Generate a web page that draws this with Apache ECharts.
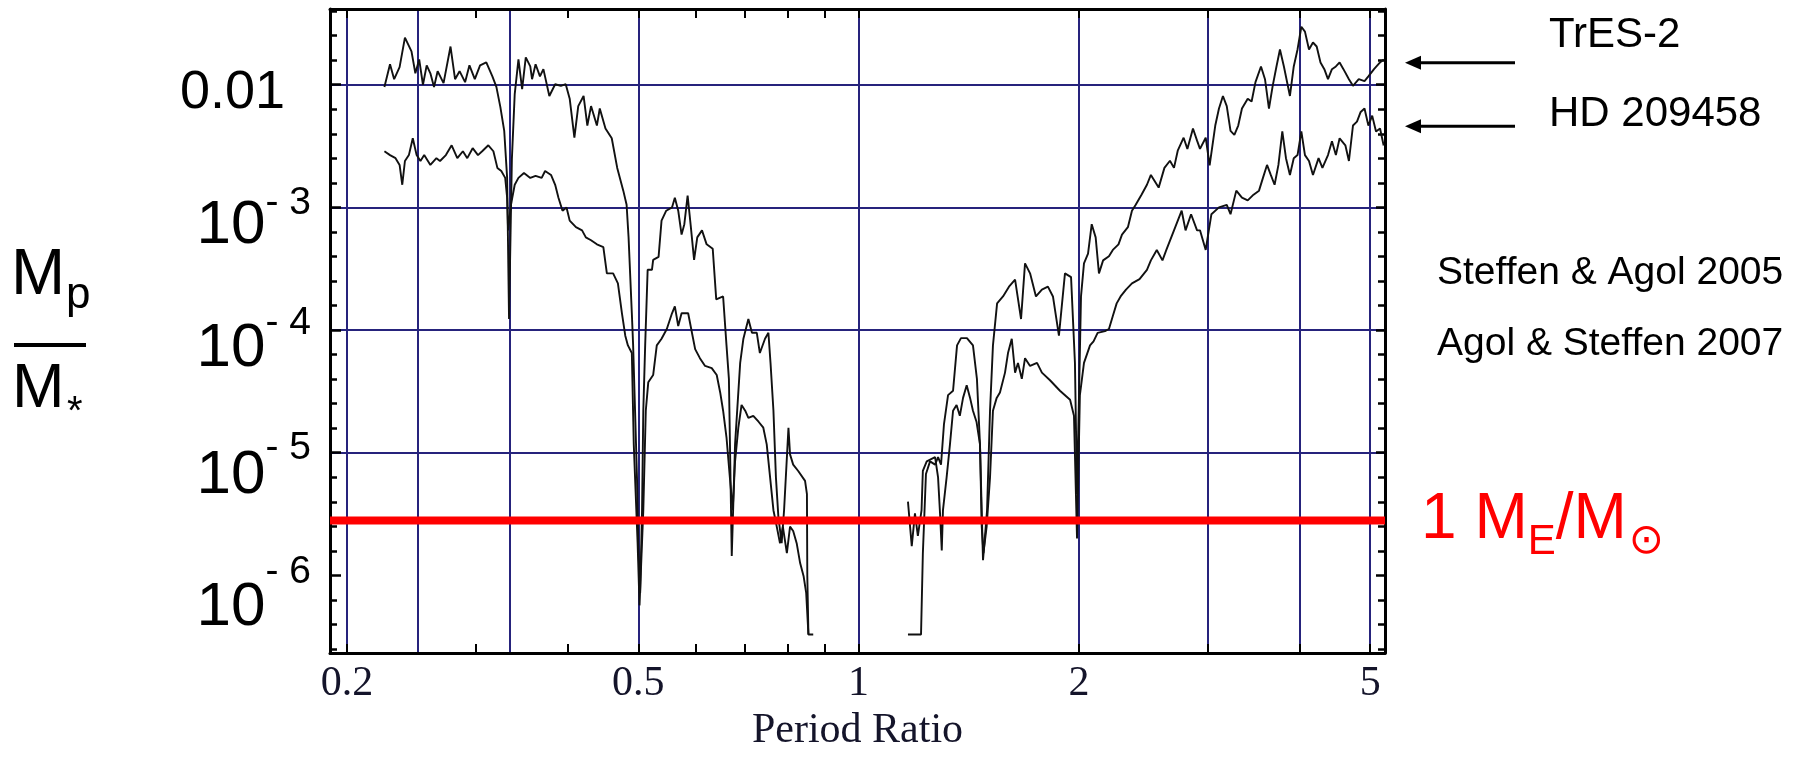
<!DOCTYPE html>
<html><head><meta charset="utf-8">
<script src="https://cdn.jsdelivr.net/npm/echarts@6/dist/echarts.min.js"></script>
<style>html,body{margin:0;padding:0;background:#fff}#c{width:1800px;height:757px}</style>
</head><body><div id="c"></div>
<script>
// ---------- data (period ratio, planet/star mass ratio) ----------
const tres2Left = [
[0.225,9.6e-3],[0.229,1.47e-2],[0.232,1.11e-2],[0.236,1.39e-2],[0.240,2.42e-2],[0.245,1.87e-2],[0.248,1.24e-2],[0.251,1.61e-2],[0.254,1.0e-2],[0.257,1.44e-2],[0.260,1.24e-2],[0.263,9.6e-3],[0.266,1.29e-2],[0.271,1.03e-2],[0.277,2.05e-2],[0.281,1.11e-2],[0.285,1.29e-2],[0.290,1.05e-2],[0.294,1.44e-2],[0.299,1.11e-2],[0.304,1.44e-2],[0.310,1.52e-2],[0.316,1.17e-2],[0.320,9.6e-3],[0.324,6.6e-3],[0.328,4.2e-3],[0.331,1.74e-3],[0.333,1.23e-4],[0.336,2.5e-3],[0.339,8.4e-3],
[0.341,8.7e-3],[0.343,1.61e-2],[0.347,9.2e-3],[0.351,1.67e-2],[0.356,1.41e-2],[0.358,1.11e-2],[0.362,1.47e-2],[0.367,1.17e-2],[0.371,1.34e-2],[0.378,8.1e-3],[0.385,1.01e-2],[0.392,9.8e-3],[0.398,1.01e-2],[0.403,7.7e-3],[0.409,3.7e-3],[0.414,6.7e-3],[0.421,8.1e-3],[0.426,4.65e-3],[0.431,6.7e-3],[0.439,4.65e-3],[0.443,6.4e-3],[0.451,4.4e-3],[0.460,3.66e-3],[0.468,2.1e-3],[0.477,1.37e-3],[0.482,1.05e-3],[0.485,5.7e-4],[0.490,1.37e-4],[0.492,7.5e-5],[0.495,2.2e-5],[0.498,6.3e-6],[0.500,1.83e-6],[0.503,7.2e-7],[0.506,3.4e-6],[0.508,2.2e-5],[0.511,7.5e-5],[0.515,3.1e-4],[0.522,3.1e-4],[0.524,3.74e-4],[0.533,3.95e-4],[0.538,7.8e-4],[0.546,9.4e-4],[0.556,1.0e-3],[0.561,1.2e-3],[0.567,9.4e-4],[0.573,6.0e-4],[0.578,7.3e-4],[0.584,1.25e-3],[0.590,6.9e-4],[0.596,3.74e-4],[0.602,5.7e-4],[0.611,6.5e-4],[0.620,5.0e-4],[0.632,4.6e-4],[0.639,1.78e-4],[0.653,1.88e-4],[0.660,7.5e-5],[0.665,4.0e-5],[0.671,1.44e-6],[0.678,1.17e-5],[0.689,5.4e-5],[0.696,8.5e-5],[0.707,1.23e-4],[0.715,9.5e-5],[0.726,9.5e-5],[0.733,6.5e-5],[0.745,8.5e-5],[0.753,9.5e-5],[0.758,5.4e-5],[0.765,2.2e-5],[0.771,6.3e-6],[0.777,3.0e-6],[0.785,1.83e-6],[0.791,3.4e-6],[0.802,1.6e-5],[0.806,9.7e-6],[0.814,8.0e-6],[0.827,7.1e-6],[0.845,5.9e-6],[0.850,4.6e-6],[0.851,9.9e-7],[0.854,3.3e-7],[0.867,3.3e-7]
];
const tres2Right = [
[1.168,3.3e-7],[1.217,3.3e-7],[1.224,1.5e-6],[1.236,6.7e-6],[1.252,8.5e-6],[1.272,8.0e-6],[1.284,9.2e-6],[1.296,8.0e-6],[1.308,1.7e-5],[1.325,2.95e-5],[1.346,3.2e-5],[1.363,7.5e-5],[1.380,8.6e-5],[1.406,8.6e-5],[1.433,7.5e-5],[1.451,4.0e-5],[1.465,1.17e-5],[1.479,1.33e-6],[1.498,3.4e-6],[1.512,2.2e-5],[1.526,7.5e-5],[1.546,1.65e-4],[1.575,1.88e-4],[1.605,2.26e-4],[1.636,2.58e-4],[1.667,1.23e-4],[1.688,3.5e-4],[1.715,2.9e-4],[1.747,1.88e-4],[1.780,2.14e-4],[1.814,2.26e-4],[1.843,1.88e-4],[1.878,9.0e-5],[1.914,2.9e-4],[1.951,2.7e-4],[1.975,5.4e-5],[1.988,4.6e-6],[2.013,1.88e-4],[2.032,3.5e-4],[2.058,4.2e-4],[2.082,7.3e-4],[2.108,5.7e-4],[2.130,2.9e-4],[2.158,3.7e-4],[2.198,4.0e-4],[2.225,4.5e-4],[2.265,5.0e-4],[2.290,6.0e-4],[2.333,6.9e-4],[2.363,9.4e-4],[2.391,1.05e-3],[2.435,1.27e-3],[2.477,1.53e-3],[2.508,1.84e-3],[2.570,1.45e-3],[2.617,2.1e-3],[2.663,2.4e-3],[2.697,2.1e-3],[2.729,2.9e-3],[2.780,3.7e-3],[2.813,3.0e-3],[2.863,4.4e-3],[2.900,3.5e-3],[2.927,3.0e-3],[2.980,3.7e-3],[3.017,2.2e-3],[3.071,4.65e-3],[3.107,6.4e-3],[3.146,8.1e-3],[3.184,6.7e-3],[3.222,4.2e-3],[3.261,3.9e-3],[3.301,4.65e-3],[3.340,6.4e-3],[3.401,7.7e-3],[3.443,7.3e-3],[3.485,1.05e-2],[3.546,1.41e-2],[3.591,1.11e-2],[3.636,6.4e-3],[3.679,9.8e-3],[3.723,1.41e-2],[3.764,1.94e-2],[3.811,1.41e-2],[3.884,8.1e-3],[3.931,1.41e-2],[3.978,1.94e-2],[4.026,2.97e-2],[4.072,2.71e-2],[4.124,1.94e-2],[4.176,2.21e-2],[4.225,2.05e-2],[4.276,1.52e-2],[4.328,1.34e-2],[4.378,1.11e-2],[4.433,1.34e-2],[4.488,1.41e-2],[4.541,1.52e-2],[4.596,1.34e-2],[4.676,1.11e-2],[4.736,9.8e-3],[4.823,1.11e-2],[4.911,1.07e-2],[4.971,1.17e-2],[5.060,1.34e-2],[5.157,1.52e-2],[5.216,1.61e-2]
];
const hd209458Left = [
[0.225,2.87e-3],[0.229,2.67e-3],[0.233,2.52e-3],[0.236,2.22e-3],[0.238,1.53e-3],[0.240,2.39e-3],[0.243,2.67e-3],[0.246,3.66e-3],[0.249,2.67e-3],[0.252,2.39e-3],[0.255,2.67e-3],[0.260,2.22e-3],[0.265,2.52e-3],[0.268,2.39e-3],[0.273,2.67e-3],[0.278,3.21e-3],[0.283,2.52e-3],[0.288,2.87e-3],[0.292,2.52e-3],[0.297,3.04e-3],[0.302,2.67e-3],[0.306,2.87e-3],[0.312,3.21e-3],[0.317,2.87e-3],[0.321,2.1e-3],[0.325,1.98e-3],[0.329,1.74e-3],[0.331,1.2e-3],[0.332,6.5e-4],[0.335,1.05e-3],[0.339,1.53e-3],[0.343,1.74e-3],[0.349,1.91e-3],[0.356,1.74e-3],[0.362,1.81e-3],[0.369,1.74e-3],[0.373,1.98e-3],[0.380,1.84e-3],[0.385,1.53e-3],[0.389,1.2e-3],[0.394,9.4e-4],[0.399,1.0e-3],[0.403,7.8e-4],[0.411,6.9e-4],[0.419,6.5e-4],[0.424,5.7e-4],[0.431,5.4e-4],[0.439,5.0e-4],[0.448,4.75e-4],[0.453,2.9e-4],[0.462,2.9e-4],[0.469,2.4e-4],[0.475,1.37e-4],[0.480,9.0e-5],[0.484,7.5e-5],[0.490,6.5e-5],[0.493,1.17e-5],[0.499,1.83e-6],[0.502,5.7e-7],[0.508,3.4e-6],[0.512,2.2e-5],[0.516,3.75e-5],[0.524,4.3e-5],[0.530,7.5e-5],[0.538,8.5e-5],[0.547,1.02e-4],[0.556,1.37e-4],[0.561,1.56e-4],[0.567,1.08e-4],[0.573,1.37e-4],[0.585,1.37e-4],[0.592,9.5e-5],[0.598,7.0e-5],[0.607,5.9e-5],[0.617,5.1e-5],[0.630,4.9e-5],[0.640,4.3e-5],[0.647,3.1e-5],[0.653,2.2e-5],[0.660,1.33e-5],[0.667,6.3e-6],[0.673,3.4e-6],[0.678,8.5e-6],[0.685,1.6e-5],[0.692,2.45e-5],[0.700,2.2e-5],[0.707,1.92e-5],[0.718,2.0e-5],[0.730,1.79e-5],[0.741,1.6e-5],[0.749,1.17e-5],[0.757,6.3e-6],[0.765,3.4e-6],[0.773,2.5e-6],[0.781,1.83e-6],[0.788,2.5e-6],[0.798,1.52e-6],[0.806,2.5e-6],[0.814,2.3e-6],[0.823,1.83e-6],[0.832,1.26e-6],[0.841,9.9e-7],[0.848,7.2e-7],[0.854,3.3e-7]
];
const hd209458Right = [
[1.168,4.0e-6],[1.182,1.73e-6],[1.194,3.2e-6],[1.205,2.1e-6],[1.219,3.4e-6],[1.224,7.1e-6],[1.239,8.5e-6],[1.272,9.2e-6],[1.284,6.3e-6],[1.292,3.2e-6],[1.299,1.6e-6],[1.304,3.4e-6],[1.319,6.3e-6],[1.333,1.17e-5],[1.346,2.2e-5],[1.361,2.45e-5],[1.375,2.0e-5],[1.389,2.8e-5],[1.405,3.55e-5],[1.420,2.8e-5],[1.433,2.2e-5],[1.449,1.79e-5],[1.465,1.17e-5],[1.473,2.5e-6],[1.481,1.52e-6],[1.496,2.5e-6],[1.512,6.3e-6],[1.526,2.2e-5],[1.544,2.8e-5],[1.560,3.1e-5],[1.585,4.5e-5],[1.600,6.5e-5],[1.619,8.5e-5],[1.636,4.5e-5],[1.651,5.4e-5],[1.671,4.0e-5],[1.688,5.9e-5],[1.715,5.1e-5],[1.753,5.4e-5],[1.780,4.5e-5],[1.826,3.9e-5],[1.884,3.2e-5],[1.945,2.7e-5],[1.969,2.0e-5],[1.988,2.0e-6],[2.006,2.95e-5],[2.032,5.4e-5],[2.071,7.5e-5],[2.094,8.1e-5],[2.121,9.5e-5],[2.171,9.8e-5],[2.198,1.02e-4],[2.225,1.3e-4],[2.252,1.65e-4],[2.280,1.88e-4],[2.319,2.14e-4],[2.363,2.4e-4],[2.420,2.6e-4],[2.477,3.1e-4],[2.508,3.7e-4],[2.555,4.5e-4],[2.601,3.7e-4],[2.633,4.5e-4],[2.697,6.5e-4],[2.763,9.4e-4],[2.797,6.5e-4],[2.846,8.8e-4],[2.900,6.5e-4],[2.927,6.5e-4],[2.980,4.5e-4],[3.034,8.8e-4],[3.107,1.0e-3],[3.184,1.05e-3],[3.222,8.8e-4],[3.281,1.37e-3],[3.340,1.2e-3],[3.401,1.14e-3],[3.464,1.27e-3],[3.524,1.37e-3],[3.568,1.74e-3],[3.614,2.22e-3],[3.657,1.84e-3],[3.701,1.53e-3],[3.746,2.22e-3],[3.792,4.16e-3],[3.836,2.52e-3],[3.884,1.84e-3],[3.931,2.52e-3],[3.978,2.67e-3],[4.026,4.16e-3],[4.072,2.67e-3],[4.124,2.39e-3],[4.176,1.84e-3],[4.250,2.52e-3],[4.302,2.1e-3],[4.378,2.67e-3],[4.433,3.46e-3],[4.488,2.67e-3],[4.541,3.66e-3],[4.624,3.21e-3],[4.676,2.39e-3],[4.736,4.65e-3],[4.796,5.0e-3],[4.852,6.0e-3],[4.911,6.4e-3],[4.971,4.65e-3],[5.031,5.6e-3],[5.092,4.16e-3],[5.157,4.4e-3],[5.216,3.2e-3]
];
const earthSunMassRatio = 2.8e-6;          // red reference line
const arrowTargets = [0.0151, 0.00459];     // TrES-2, HD 209458 arrows
const arrowNames = ['TrES-2', 'HD 209458'];
const citations = ['Steffen & Agol 2005', 'Agol & Steffen 2007'];

// ---------- axes ----------
const xMin = 0.1896, xMax = 5.238;
const yMin = 2.33e-7, yMax = 0.04145;
const xLabelValues = [0.2, 0.5, 1, 2, 5];
const xTickValues = [0.2, 0.3, 0.4, 0.5, 0.6, 0.7, 0.8, 0.9, 1, 2, 3, 4, 5];
const xGridValues = [0.2, 0.25, 1/3, 0.5, 1, 2, 3, 4, 5];
const yLabelValues = [1e-6, 1e-5, 1e-4, 1e-3, 1e-2];
const yGridValues = [1e-5, 1e-4, 1e-3, 1e-2];
const yMinorTickValues = [2.512e-7,3.981e-7,6.310e-7,1.585e-6,2.512e-6,3.981e-6,6.310e-6,1.585e-5,2.512e-5,3.981e-5,6.310e-5,1.585e-4,2.512e-4,3.981e-4,6.310e-4,1.585e-3,2.512e-3,3.981e-3,6.310e-3,1.585e-2,2.512e-2,3.981e-2];

const SANS = 'Liberation Sans, Arial, sans-serif';
const SERIF = 'Liberation Serif, Times New Roman, serif';
const GRID_COLOR = '#26237c';

const chart = echarts.init(document.getElementById('c'), null, {renderer: 'canvas'});

function xAxisBase(extra) {
  return Object.assign({
    type: 'log', min: xMin, max: xMax, gridIndex: 0,
    axisLine: {show: false}, axisTick: {show: false}, axisLabel: {show: false},
    splitLine: {show: false}, minorTick: {show: false}
  }, extra);
}
function yAxisBase(extra) {
  return Object.assign({
    type: 'log', min: yMin, max: yMax, gridIndex: 0,
    axisLine: {show: false}, axisTick: {show: false}, axisLabel: {show: false},
    splitLine: {show: false}, minorTick: {show: false}
  }, extra);
}
const frameLine = {show: true, lineStyle: {color: '#000', width: 3}};

const curveStyle = {color: '#111', width: 1.9};
function curve(name, data) {
  return {
    name: name, type: 'line', data: data, xAxisIndex: 0, yAxisIndex: 0,
    symbol: 'none', showSymbol: false, lineStyle: curveStyle, z: 3, silent: true
  };
}

const option = {
  animation: false,
  backgroundColor: '#fff',
  grid: {left: 330, right: 415, top: 9, bottom: 96},
  xAxis: [
    xAxisBase({
      position: 'bottom', axisLine: frameLine,
      axisTick: {show: true, inside: true, length: 9, customValues: xTickValues, lineStyle: {color: '#000', width: 2}},
      axisLabel: {show: true, customValues: xLabelValues, margin: 10,
        formatter: v => String(+(+v).toPrecision(3)),
        fontFamily: SERIF, fontSize: 42, color: '#14142a'},
      name: 'Period Ratio', nameLocation: 'middle', nameGap: 57,
      nameTextStyle: {fontFamily: SERIF, fontSize: 42, color: '#14142a'}
    }),
    xAxisBase({
      position: 'top', axisLine: frameLine,
      axisTick: {show: true, inside: true, length: 9, customValues: xTickValues, lineStyle: {color: '#000', width: 2}}
    }),
    xAxisBase({
      position: 'bottom',
      axisTick: {show: false, customValues: xGridValues},
      splitLine: {show: true, lineStyle: {color: GRID_COLOR, width: 2}}
    })
  ],
  yAxis: [
    yAxisBase({
      position: 'left', axisLine: frameLine,
      axisTick: {show: true, inside: true, length: 11, customValues: yLabelValues, lineStyle: {color: '#000', width: 2.5}},
      axisLabel: {
        show: true, customValues: yLabelValues, margin: 19, color: '#000', fontFamily: SANS,
        formatter: function (v) {
          const e = Math.round(Math.log10(v));
          if (e === -2) return '{d|0.01}{gap| }';
          const n = -e;
          return '{b' + n + '|10}{e' + n + '|- ' + n + '}';
        },
        rich: {
          d: {fontFamily: SANS, fontSize: 54, lineHeight: 54, padding: [16, 0, 0, 0], color: '#000'},
          gap: {width: 26, fontSize: 10},
          b3: {fontFamily: SANS, fontSize: 62, lineHeight: 62, padding: [36, 0, 0, 0], color: '#000'},
          e3: {fontFamily: SANS, fontSize: 39, lineHeight: 39, padding: [0, 0, 8, 0], color: '#000'},
          b4: {fontFamily: SANS, fontSize: 62, lineHeight: 62, padding: [38, 0, 0, 0], color: '#000'},
          e4: {fontFamily: SANS, fontSize: 39, lineHeight: 39, padding: [0, 0, 14, 0], color: '#000'},
          b5: {fontFamily: SANS, fontSize: 62, lineHeight: 62, padding: [46, 0, 0, 0], color: '#000'},
          e5: {fontFamily: SANS, fontSize: 39, lineHeight: 39, padding: [0, 0, 8, 0], color: '#000'},
          b6: {fontFamily: SANS, fontSize: 62, lineHeight: 62, padding: [66, 0, 0, 0], color: '#000'},
          e6: {fontFamily: SANS, fontSize: 39, lineHeight: 39, padding: [0, 0, 6, 0], color: '#000'}
        }
      }
    }),
    yAxisBase({
      position: 'right', axisLine: frameLine,
      axisTick: {show: true, inside: true, length: 9, customValues: yLabelValues, lineStyle: {color: '#000', width: 2.5}}
    }),
    yAxisBase({
      position: 'left',
      axisTick: {show: true, inside: true, length: 7, customValues: yMinorTickValues, lineStyle: {color: '#000', width: 2.5}}
    }),
    yAxisBase({
      position: 'right',
      axisTick: {show: true, inside: true, length: 7, customValues: yMinorTickValues, lineStyle: {color: '#000', width: 2.5}}
    }),
    yAxisBase({
      position: 'left',
      axisTick: {show: false, customValues: yGridValues},
      splitLine: {show: true, lineStyle: {color: GRID_COLOR, width: 2}}
    })
  ],
  series: [
    curve('TrES-2', tres2Left),
    curve('TrES-2', tres2Right),
    curve('HD 209458', hd209458Left),
    curve('HD 209458', hd209458Right),
    {
      // 1 Earth mass / 1 Solar mass reference line across the whole period-ratio range
      name: 'Earth mass', type: 'line', xAxisIndex: 0, yAxisIndex: 0, z: 5, silent: true,
      data: [[xMin, earthSunMassRatio], [xMax, earthSunMassRatio]],
      symbol: 'none', showSymbol: false,
      lineStyle: {color: '#ff0000', width: 8, cap: 'butt'},
      endLabel: {
        show: true, distance: 36,
        formatter: '{a|1 M}{s|E}{a|/M}{o|\u2299}',
        rich: {
          a: {fontFamily: SANS, fontSize: 64, lineHeight: 64, color: '#ff0000'},
          s: {fontFamily: SANS, fontSize: 42, lineHeight: 42, padding: [44, 0, 0, 0], color: '#ff0000'},
          o: {fontFamily: 'DejaVu Sans, sans-serif', fontSize: 42, lineHeight: 42, padding: [44, 0, 0, 2], color: '#ff0000'}
        }
      }
    }
  ]
};
chart.setOption(option);

// ---------- annotations ----------
const graphics = [];
arrowTargets.forEach(function (val) {
  const y = chart.convertToPixel({yAxisIndex: 0}, val);
  graphics.push({type: 'line', shape: {x1: 1515, y1: y, x2: 1416, y2: y}, style: {stroke: '#000', lineWidth: 3}});
  graphics.push({type: 'polygon', shape: {points: [[1405, y], [1421, y - 7], [1421, y + 7]]}, style: {fill: '#000'}});
});
graphics.push({type: 'text', x: 1549, y: 35, style: {text: arrowNames[0], fontFamily: SANS, fontSize: 42, fill: '#000', align: 'left', verticalAlign: 'middle'}});
graphics.push({type: 'text', x: 1549, y: 114, style: {text: arrowNames[1], fontFamily: SANS, fontSize: 42, fill: '#000', align: 'left', verticalAlign: 'middle'}});
graphics.push({type: 'text', x: 1437, y: 273, style: {text: citations[0], fontFamily: SANS, fontSize: 39, fill: '#000', align: 'left', verticalAlign: 'middle'}});
graphics.push({type: 'text', x: 1437, y: 344, style: {text: citations[1], fontFamily: SANS, fontSize: 39, fill: '#000', align: 'left', verticalAlign: 'middle'}});
// y-axis title M_p / M_*
graphics.push({type: 'text', x: 11, y: 276, style: {text: 'M', fontFamily: SANS, fontSize: 65, fill: '#000', align: 'left', verticalAlign: 'middle'}});
graphics.push({type: 'text', x: 66, y: 296, style: {text: 'p', fontFamily: SANS, fontSize: 44, fill: '#000', align: 'left', verticalAlign: 'middle'}});
graphics.push({type: 'rect', shape: {x: 14, y: 343, width: 72, height: 4}, style: {fill: '#000'}});
graphics.push({type: 'text', x: 12, y: 390, style: {text: 'M', fontFamily: SANS, fontSize: 63, fill: '#000', align: 'left', verticalAlign: 'middle'}});
graphics.push({type: 'text', x: 67, y: 413, style: {text: '*', fontFamily: SANS, fontSize: 40, fill: '#000', align: 'left', verticalAlign: 'middle'}});
chart.setOption({graphic: graphics});
</script></body></html>
